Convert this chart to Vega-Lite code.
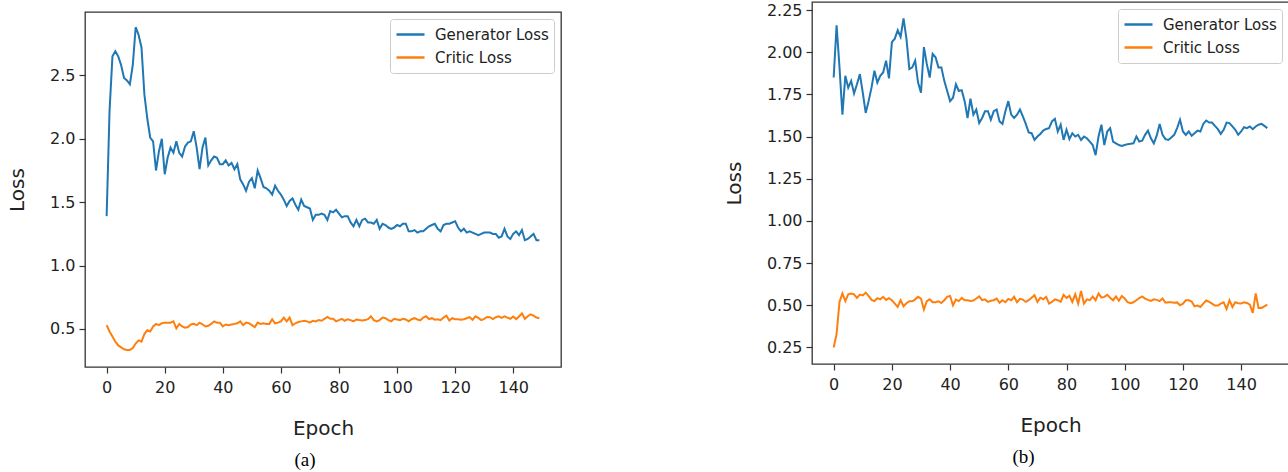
{
  "$schema": "https://vega.github.io/schema/vega-lite/v6.json",
  "padding": {"left": 6, "top": 1, "right": 0, "bottom": 0},
  "spacing": 161,
  "config": {
    "font": "DejaVu Sans",
    "view": {"stroke": "#333333", "strokeWidth": 1.3},
    "axis": {"grid": false, "domain": false, "tickColor": "#333333", "tickSize": 6, "tickWidth": 1.2, "labelColor": "#222222", "labelFontSize": 16, "labelFont": "DejaVu Sans", "titleFont": "DejaVu Sans", "titleFontSize": 20, "titleFontWeight": "normal", "titleColor": "#222222", "labelPadding": 4},
    "axisX": {"labelPadding": 6},
    "legend": {"orient": "top-right", "offset": 7, "fillColor": "rgba(255,255,255,0.8)", "strokeColor": "#cccccc", "cornerRadius": 3, "padding": 5, "symbolType": "stroke", "symbolSize": 784, "symbolStrokeWidth": 2.5, "labelFontSize": 15, "labelFont": "DejaVu Sans", "labelColor": "#222222", "rowPadding": 2, "clipHeight": 21, "labelOffset": 9},
    "title": {"font": "Liberation Serif", "fontSize": 19, "fontWeight": "normal", "color": "#000000", "orient": "bottom", "offset": 13}
  },
  "datasets": {
    "a": [
{"epoch":0,"Generator Loss":1.39,"Critic Loss":0.53},{"epoch":1,"Generator Loss":2.22,"Critic Loss":0.48},{"epoch":2,"Generator Loss":2.65,"Critic Loss":0.44},{"epoch":3,"Generator Loss":2.69,"Critic Loss":0.40},{"epoch":4,"Generator Loss":2.65,"Critic Loss":0.37},{"epoch":5,"Generator Loss":2.58,"Critic Loss":0.355},{"epoch":6,"Generator Loss":2.48,"Critic Loss":0.34},{"epoch":7,"Generator Loss":2.46,"Critic Loss":0.335},{"epoch":8,"Generator Loss":2.43,"Critic Loss":0.335},{"epoch":9,"Generator Loss":2.58,"Critic Loss":0.35},
{"epoch":10,"Generator Loss":2.88,"Critic Loss":0.385},{"epoch":11,"Generator Loss":2.82,"Critic Loss":0.41},{"epoch":12,"Generator Loss":2.72,"Critic Loss":0.40},{"epoch":13,"Generator Loss":2.35,"Critic Loss":0.46},{"epoch":14,"Generator Loss":2.16,"Critic Loss":0.49},{"epoch":15,"Generator Loss":2.01,"Critic Loss":0.48},{"epoch":16,"Generator Loss":1.98,"Critic Loss":0.52},{"epoch":17,"Generator Loss":1.75,"Critic Loss":0.54},{"epoch":18,"Generator Loss":1.90,"Critic Loss":0.53},{"epoch":19,"Generator Loss":2.00,"Critic Loss":0.545},
{"epoch":20,"Generator Loss":1.72,"Critic Loss":0.55},{"epoch":21,"Generator Loss":1.85,"Critic Loss":0.55},{"epoch":22,"Generator Loss":1.93,"Critic Loss":0.55},{"epoch":23,"Generator Loss":1.89,"Critic Loss":0.56},{"epoch":24,"Generator Loss":1.98,"Critic Loss":0.505},{"epoch":25,"Generator Loss":1.89,"Critic Loss":0.54},{"epoch":26,"Generator Loss":1.86,"Critic Loss":0.52},{"epoch":27,"Generator Loss":1.94,"Critic Loss":0.51},{"epoch":28,"Generator Loss":1.97,"Critic Loss":0.515},{"epoch":29,"Generator Loss":1.98,"Critic Loss":0.535},
{"epoch":30,"Generator Loss":2.06,"Critic Loss":0.54},{"epoch":31,"Generator Loss":1.93,"Critic Loss":0.53},{"epoch":32,"Generator Loss":1.76,"Critic Loss":0.55},{"epoch":33,"Generator Loss":1.93,"Critic Loss":0.537},{"epoch":34,"Generator Loss":2.01,"Critic Loss":0.52},{"epoch":35,"Generator Loss":1.79,"Critic Loss":0.525},{"epoch":36,"Generator Loss":1.83,"Critic Loss":0.54},{"epoch":37,"Generator Loss":1.86,"Critic Loss":0.56},{"epoch":38,"Generator Loss":1.85,"Critic Loss":0.55},{"epoch":39,"Generator Loss":1.80,"Critic Loss":0.55},
{"epoch":40,"Generator Loss":1.80,"Critic Loss":0.52},{"epoch":41,"Generator Loss":1.83,"Critic Loss":0.535},{"epoch":42,"Generator Loss":1.79,"Critic Loss":0.53},{"epoch":43,"Generator Loss":1.81,"Critic Loss":0.535},{"epoch":44,"Generator Loss":1.76,"Critic Loss":0.54},{"epoch":45,"Generator Loss":1.80,"Critic Loss":0.545},{"epoch":46,"Generator Loss":1.68,"Critic Loss":0.56},{"epoch":47,"Generator Loss":1.64,"Critic Loss":0.53},{"epoch":48,"Generator Loss":1.59,"Critic Loss":0.55},{"epoch":49,"Generator Loss":1.66,"Critic Loss":0.545},
{"epoch":50,"Generator Loss":1.69,"Critic Loss":0.53},{"epoch":51,"Generator Loss":1.61,"Critic Loss":0.515},{"epoch":52,"Generator Loss":1.75,"Critic Loss":0.55},{"epoch":53,"Generator Loss":1.69,"Critic Loss":0.54},{"epoch":54,"Generator Loss":1.62,"Critic Loss":0.545},{"epoch":55,"Generator Loss":1.61,"Critic Loss":0.54},{"epoch":56,"Generator Loss":1.59,"Critic Loss":0.54},{"epoch":57,"Generator Loss":1.56,"Critic Loss":0.577},{"epoch":58,"Generator Loss":1.63,"Critic Loss":0.545},{"epoch":59,"Generator Loss":1.59,"Critic Loss":0.55},
{"epoch":60,"Generator Loss":1.56,"Critic Loss":0.56},{"epoch":61,"Generator Loss":1.52,"Critic Loss":0.59},{"epoch":62,"Generator Loss":1.47,"Critic Loss":0.56},{"epoch":63,"Generator Loss":1.51,"Critic Loss":0.59},{"epoch":64,"Generator Loss":1.53,"Critic Loss":0.53},{"epoch":65,"Generator Loss":1.48,"Critic Loss":0.545},{"epoch":66,"Generator Loss":1.44,"Critic Loss":0.555},{"epoch":67,"Generator Loss":1.52,"Critic Loss":0.56},{"epoch":68,"Generator Loss":1.47,"Critic Loss":0.565},{"epoch":69,"Generator Loss":1.46,"Critic Loss":0.56},
{"epoch":70,"Generator Loss":1.45,"Critic Loss":0.55},{"epoch":71,"Generator Loss":1.36,"Critic Loss":0.565},{"epoch":72,"Generator Loss":1.40,"Critic Loss":0.56},{"epoch":73,"Generator Loss":1.40,"Critic Loss":0.57},{"epoch":74,"Generator Loss":1.41,"Critic Loss":0.565},{"epoch":75,"Generator Loss":1.40,"Critic Loss":0.58},{"epoch":76,"Generator Loss":1.36,"Critic Loss":0.595},{"epoch":77,"Generator Loss":1.43,"Critic Loss":0.58},{"epoch":78,"Generator Loss":1.42,"Critic Loss":0.58},{"epoch":79,"Generator Loss":1.44,"Critic Loss":0.56},
{"epoch":80,"Generator Loss":1.41,"Critic Loss":0.57},{"epoch":81,"Generator Loss":1.38,"Critic Loss":0.58},{"epoch":82,"Generator Loss":1.39,"Critic Loss":0.565},{"epoch":83,"Generator Loss":1.39,"Critic Loss":0.577},{"epoch":84,"Generator Loss":1.34,"Critic Loss":0.57},{"epoch":85,"Generator Loss":1.31,"Critic Loss":0.56},{"epoch":86,"Generator Loss":1.36,"Critic Loss":0.575},{"epoch":87,"Generator Loss":1.31,"Critic Loss":0.57},{"epoch":88,"Generator Loss":1.36,"Critic Loss":0.567},{"epoch":89,"Generator Loss":1.37,"Critic Loss":0.57},
{"epoch":90,"Generator Loss":1.34,"Critic Loss":0.577},{"epoch":91,"Generator Loss":1.34,"Critic Loss":0.60},{"epoch":92,"Generator Loss":1.33,"Critic Loss":0.57},{"epoch":93,"Generator Loss":1.36,"Critic Loss":0.56},{"epoch":94,"Generator Loss":1.29,"Critic Loss":0.57},{"epoch":95,"Generator Loss":1.33,"Critic Loss":0.59},{"epoch":96,"Generator Loss":1.32,"Critic Loss":0.585},{"epoch":97,"Generator Loss":1.30,"Critic Loss":0.57},{"epoch":98,"Generator Loss":1.29,"Critic Loss":0.56},{"epoch":99,"Generator Loss":1.30,"Critic Loss":0.58},
{"epoch":100,"Generator Loss":1.32,"Critic Loss":0.575},{"epoch":101,"Generator Loss":1.31,"Critic Loss":0.57},{"epoch":102,"Generator Loss":1.33,"Critic Loss":0.58},{"epoch":103,"Generator Loss":1.33,"Critic Loss":0.575},{"epoch":104,"Generator Loss":1.27,"Critic Loss":0.56},{"epoch":105,"Generator Loss":1.27,"Critic Loss":0.577},{"epoch":106,"Generator Loss":1.28,"Critic Loss":0.585},{"epoch":107,"Generator Loss":1.26,"Critic Loss":0.575},{"epoch":108,"Generator Loss":1.27,"Critic Loss":0.567},{"epoch":109,"Generator Loss":1.27,"Critic Loss":0.59},
{"epoch":110,"Generator Loss":1.29,"Critic Loss":0.60},{"epoch":111,"Generator Loss":1.31,"Critic Loss":0.578},{"epoch":112,"Generator Loss":1.32,"Critic Loss":0.585},{"epoch":113,"Generator Loss":1.33,"Critic Loss":0.573},{"epoch":114,"Generator Loss":1.29,"Critic Loss":0.577},{"epoch":115,"Generator Loss":1.27,"Critic Loss":0.57},{"epoch":116,"Generator Loss":1.32,"Critic Loss":0.59},{"epoch":117,"Generator Loss":1.33,"Critic Loss":0.605},{"epoch":118,"Generator Loss":1.33,"Critic Loss":0.566},{"epoch":119,"Generator Loss":1.34,"Critic Loss":0.585},
{"epoch":120,"Generator Loss":1.35,"Critic Loss":0.577},{"epoch":121,"Generator Loss":1.30,"Critic Loss":0.577},{"epoch":122,"Generator Loss":1.27,"Critic Loss":0.573},{"epoch":123,"Generator Loss":1.29,"Critic Loss":0.577},{"epoch":124,"Generator Loss":1.26,"Critic Loss":0.585},{"epoch":125,"Generator Loss":1.27,"Critic Loss":0.593},{"epoch":126,"Generator Loss":1.26,"Critic Loss":0.572},{"epoch":127,"Generator Loss":1.25,"Critic Loss":0.60},{"epoch":128,"Generator Loss":1.24,"Critic Loss":0.587},{"epoch":129,"Generator Loss":1.25,"Critic Loss":0.57},
{"epoch":130,"Generator Loss":1.26,"Critic Loss":0.58},{"epoch":131,"Generator Loss":1.26,"Critic Loss":0.595},{"epoch":132,"Generator Loss":1.26,"Critic Loss":0.593},{"epoch":133,"Generator Loss":1.25,"Critic Loss":0.578},{"epoch":134,"Generator Loss":1.25,"Critic Loss":0.593},{"epoch":135,"Generator Loss":1.22,"Critic Loss":0.60},{"epoch":136,"Generator Loss":1.23,"Critic Loss":0.588},{"epoch":137,"Generator Loss":1.29,"Critic Loss":0.60},{"epoch":138,"Generator Loss":1.23,"Critic Loss":0.59},{"epoch":139,"Generator Loss":1.21,"Critic Loss":0.58},
{"epoch":140,"Generator Loss":1.25,"Critic Loss":0.598},{"epoch":141,"Generator Loss":1.27,"Critic Loss":0.578},{"epoch":142,"Generator Loss":1.24,"Critic Loss":0.598},{"epoch":143,"Generator Loss":1.28,"Critic Loss":0.623},{"epoch":144,"Generator Loss":1.20,"Critic Loss":0.58},{"epoch":145,"Generator Loss":1.21,"Critic Loss":0.60},{"epoch":146,"Generator Loss":1.23,"Critic Loss":0.615},{"epoch":147,"Generator Loss":1.25,"Critic Loss":0.605},{"epoch":148,"Generator Loss":1.20,"Critic Loss":0.59},{"epoch":149,"Generator Loss":1.20,"Critic Loss":0.585}
    ],
    "b": [
{"epoch":0,"Generator Loss":1.85,"Critic Loss":0.25},{"epoch":1,"Generator Loss":2.16,"Critic Loss":0.33},{"epoch":2,"Generator Loss":1.91,"Critic Loss":0.52},{"epoch":3,"Generator Loss":1.63,"Critic Loss":0.57},{"epoch":4,"Generator Loss":1.86,"Critic Loss":0.525},{"epoch":5,"Generator Loss":1.79,"Critic Loss":0.565},{"epoch":6,"Generator Loss":1.83,"Critic Loss":0.57},{"epoch":7,"Generator Loss":1.755,"Critic Loss":0.565},{"epoch":8,"Generator Loss":1.81,"Critic Loss":0.544},{"epoch":9,"Generator Loss":1.87,"Critic Loss":0.563},
{"epoch":10,"Generator Loss":1.76,"Critic Loss":0.558},{"epoch":11,"Generator Loss":1.64,"Critic Loss":0.575},{"epoch":12,"Generator Loss":1.71,"Critic Loss":0.556},{"epoch":13,"Generator Loss":1.79,"Critic Loss":0.532},{"epoch":14,"Generator Loss":1.89,"Critic Loss":0.525},{"epoch":15,"Generator Loss":1.82,"Critic Loss":0.542},{"epoch":16,"Generator Loss":1.86,"Critic Loss":0.535},{"epoch":17,"Generator Loss":1.88,"Critic Loss":0.55},{"epoch":18,"Generator Loss":1.95,"Critic Loss":0.532},{"epoch":19,"Generator Loss":1.845,"Critic Loss":0.542},
{"epoch":20,"Generator Loss":2.06,"Critic Loss":0.53},{"epoch":21,"Generator Loss":2.08,"Critic Loss":0.51},{"epoch":22,"Generator Loss":2.13,"Critic Loss":0.49},{"epoch":23,"Generator Loss":2.09,"Critic Loss":0.53},{"epoch":24,"Generator Loss":2.20,"Critic Loss":0.494},{"epoch":25,"Generator Loss":2.08,"Critic Loss":0.512},{"epoch":26,"Generator Loss":1.90,"Critic Loss":0.524},{"epoch":27,"Generator Loss":1.91,"Critic Loss":0.524},{"epoch":28,"Generator Loss":1.95,"Critic Loss":0.535},{"epoch":29,"Generator Loss":1.82,"Critic Loss":0.55},
{"epoch":30,"Generator Loss":1.76,"Critic Loss":0.54},{"epoch":31,"Generator Loss":2.03,"Critic Loss":0.475},{"epoch":32,"Generator Loss":1.93,"Critic Loss":0.524},{"epoch":33,"Generator Loss":1.85,"Critic Loss":0.536},{"epoch":34,"Generator Loss":1.99,"Critic Loss":0.518},{"epoch":35,"Generator Loss":1.97,"Critic Loss":0.518},{"epoch":36,"Generator Loss":1.91,"Critic Loss":0.524},{"epoch":37,"Generator Loss":1.91,"Critic Loss":0.514},{"epoch":38,"Generator Loss":1.83,"Critic Loss":0.53},{"epoch":39,"Generator Loss":1.77,"Critic Loss":0.55},
{"epoch":40,"Generator Loss":1.71,"Critic Loss":0.555},{"epoch":41,"Generator Loss":1.73,"Critic Loss":0.50},{"epoch":42,"Generator Loss":1.81,"Critic Loss":0.534},{"epoch":43,"Generator Loss":1.77,"Critic Loss":0.525},{"epoch":44,"Generator Loss":1.775,"Critic Loss":0.544},{"epoch":45,"Generator Loss":1.71,"Critic Loss":0.53},{"epoch":46,"Generator Loss":1.61,"Critic Loss":0.53},{"epoch":47,"Generator Loss":1.725,"Critic Loss":0.525},{"epoch":48,"Generator Loss":1.63,"Critic Loss":0.528},{"epoch":49,"Generator Loss":1.66,"Critic Loss":0.54},
{"epoch":50,"Generator Loss":1.58,"Critic Loss":0.553},{"epoch":51,"Generator Loss":1.61,"Critic Loss":0.53},{"epoch":52,"Generator Loss":1.65,"Critic Loss":0.535},{"epoch":53,"Generator Loss":1.65,"Critic Loss":0.52},{"epoch":54,"Generator Loss":1.60,"Critic Loss":0.527},{"epoch":55,"Generator Loss":1.65,"Critic Loss":0.53},{"epoch":56,"Generator Loss":1.66,"Critic Loss":0.54},{"epoch":57,"Generator Loss":1.59,"Critic Loss":0.515},{"epoch":58,"Generator Loss":1.575,"Critic Loss":0.53},{"epoch":59,"Generator Loss":1.65,"Critic Loss":0.518},
{"epoch":60,"Generator Loss":1.71,"Critic Loss":0.538},{"epoch":61,"Generator Loss":1.63,"Critic Loss":0.53},{"epoch":62,"Generator Loss":1.61,"Critic Loss":0.55},{"epoch":63,"Generator Loss":1.63,"Critic Loss":0.518},{"epoch":64,"Generator Loss":1.66,"Critic Loss":0.538},{"epoch":65,"Generator Loss":1.62,"Critic Loss":0.534},{"epoch":66,"Generator Loss":1.575,"Critic Loss":0.52},{"epoch":67,"Generator Loss":1.525,"Critic Loss":0.53},{"epoch":68,"Generator Loss":1.52,"Critic Loss":0.545},{"epoch":69,"Generator Loss":1.48,"Critic Loss":0.56},
{"epoch":70,"Generator Loss":1.50,"Critic Loss":0.52},{"epoch":71,"Generator Loss":1.515,"Critic Loss":0.545},{"epoch":72,"Generator Loss":1.535,"Critic Loss":0.536},{"epoch":73,"Generator Loss":1.545,"Critic Loss":0.55},{"epoch":74,"Generator Loss":1.55,"Critic Loss":0.51},{"epoch":75,"Generator Loss":1.59,"Critic Loss":0.52},{"epoch":76,"Generator Loss":1.605,"Critic Loss":0.535},{"epoch":77,"Generator Loss":1.53,"Critic Loss":0.53},{"epoch":78,"Generator Loss":1.57,"Critic Loss":0.52},{"epoch":79,"Generator Loss":1.48,"Critic Loss":0.562},
{"epoch":80,"Generator Loss":1.54,"Critic Loss":0.544},{"epoch":81,"Generator Loss":1.485,"Critic Loss":0.556},{"epoch":82,"Generator Loss":1.52,"Critic Loss":0.52},{"epoch":83,"Generator Loss":1.50,"Critic Loss":0.565},{"epoch":84,"Generator Loss":1.51,"Critic Loss":0.51},{"epoch":85,"Generator Loss":1.48,"Critic Loss":0.585},{"epoch":86,"Generator Loss":1.50,"Critic Loss":0.51},{"epoch":87,"Generator Loss":1.49,"Critic Loss":0.535},{"epoch":88,"Generator Loss":1.47,"Critic Loss":0.53},{"epoch":89,"Generator Loss":1.45,"Critic Loss":0.552},
{"epoch":90,"Generator Loss":1.39,"Critic Loss":0.53},{"epoch":91,"Generator Loss":1.50,"Critic Loss":0.57},{"epoch":92,"Generator Loss":1.57,"Critic Loss":0.545},{"epoch":93,"Generator Loss":1.45,"Critic Loss":0.55},{"epoch":94,"Generator Loss":1.53,"Critic Loss":0.562},{"epoch":95,"Generator Loss":1.55,"Critic Loss":0.545},{"epoch":96,"Generator Loss":1.47,"Critic Loss":0.53},{"epoch":97,"Generator Loss":1.46,"Critic Loss":0.552},{"epoch":98,"Generator Loss":1.45,"Critic Loss":0.527},{"epoch":99,"Generator Loss":1.445,"Critic Loss":0.555},
{"epoch":100,"Generator Loss":1.45,"Critic Loss":0.54},{"epoch":101,"Generator Loss":1.455,"Critic Loss":0.518},{"epoch":102,"Generator Loss":1.457,"Critic Loss":0.512},{"epoch":103,"Generator Loss":1.46,"Critic Loss":0.518},{"epoch":104,"Generator Loss":1.50,"Critic Loss":0.53},{"epoch":105,"Generator Loss":1.47,"Critic Loss":0.543},{"epoch":106,"Generator Loss":1.475,"Critic Loss":0.553},{"epoch":107,"Generator Loss":1.51,"Critic Loss":0.54},{"epoch":108,"Generator Loss":1.535,"Critic Loss":0.532},{"epoch":109,"Generator Loss":1.49,"Critic Loss":0.526},
{"epoch":110,"Generator Loss":1.46,"Critic Loss":0.535},{"epoch":111,"Generator Loss":1.505,"Critic Loss":0.532},{"epoch":112,"Generator Loss":1.575,"Critic Loss":0.525},{"epoch":113,"Generator Loss":1.51,"Critic Loss":0.54},{"epoch":114,"Generator Loss":1.485,"Critic Loss":0.515},{"epoch":115,"Generator Loss":1.48,"Critic Loss":0.518},{"epoch":116,"Generator Loss":1.495,"Critic Loss":0.518},{"epoch":117,"Generator Loss":1.51,"Critic Loss":0.515},{"epoch":118,"Generator Loss":1.55,"Critic Loss":0.517},{"epoch":119,"Generator Loss":1.60,"Critic Loss":0.50},
{"epoch":120,"Generator Loss":1.53,"Critic Loss":0.51},{"epoch":121,"Generator Loss":1.51,"Critic Loss":0.53},{"epoch":122,"Generator Loss":1.53,"Critic Loss":0.53},{"epoch":123,"Generator Loss":1.505,"Critic Loss":0.522},{"epoch":124,"Generator Loss":1.52,"Critic Loss":0.494},{"epoch":125,"Generator Loss":1.535,"Critic Loss":0.498},{"epoch":126,"Generator Loss":1.53,"Critic Loss":0.49},{"epoch":127,"Generator Loss":1.575,"Critic Loss":0.51},{"epoch":128,"Generator Loss":1.595,"Critic Loss":0.528},{"epoch":129,"Generator Loss":1.583,"Critic Loss":0.52},
{"epoch":130,"Generator Loss":1.583,"Critic Loss":0.51},{"epoch":131,"Generator Loss":1.563,"Critic Loss":0.498},{"epoch":132,"Generator Loss":1.544,"Critic Loss":0.498},{"epoch":133,"Generator Loss":1.516,"Critic Loss":0.51},{"epoch":134,"Generator Loss":1.54,"Critic Loss":0.518},{"epoch":135,"Generator Loss":1.583,"Critic Loss":0.478},{"epoch":136,"Generator Loss":1.58,"Critic Loss":0.53},{"epoch":137,"Generator Loss":1.56,"Critic Loss":0.49},{"epoch":138,"Generator Loss":1.54,"Critic Loss":0.518},{"epoch":139,"Generator Loss":1.51,"Critic Loss":0.512},
{"epoch":140,"Generator Loss":1.53,"Critic Loss":0.51},{"epoch":141,"Generator Loss":1.555,"Critic Loss":0.518},{"epoch":142,"Generator Loss":1.55,"Critic Loss":0.514},{"epoch":143,"Generator Loss":1.56,"Critic Loss":0.504},{"epoch":144,"Generator Loss":1.544,"Critic Loss":0.455},{"epoch":145,"Generator Loss":1.56,"Critic Loss":0.57},{"epoch":146,"Generator Loss":1.57,"Critic Loss":0.484},{"epoch":147,"Generator Loss":1.575,"Critic Loss":0.484},{"epoch":148,"Generator Loss":1.563,"Critic Loss":0.494},{"epoch":149,"Generator Loss":1.55,"Critic Loss":0.504}
    ]
  },
  "hconcat": [
    {
      "spacing": 8,
      "resolve": {"scale": {"color": "independent"}, "legend": {"color": "independent"}},
      "vconcat": [
        {
          "width": 1, "height": 1,
          "view": {"stroke": null},
          "data": {"values": [{"k": 0}]},
          "mark": {"type": "point", "opacity": 0, "size": 1},
          "encoding": {}
        },
        {
          "width": 476, "height": 355,
          "data": {"name": "a"},
          "transform": [{"fold": ["Generator Loss", "Critic Loss"], "as": ["series", "loss"]}],
          "mark": {"type": "line", "strokeWidth": 2},
          "title": {"text": "(a)", "dx": -18},
          "encoding": {
            "x": {"field": "epoch", "type": "quantitative", "scale": {"domain": [-7.45, 156.45], "nice": false, "zero": false}, "axis": {"values": [0, 20, 40, 60, 80, 100, 120, 140], "title": "Epoch", "titlePadding": 23}},
            "y": {"field": "loss", "type": "quantitative", "scale": {"domain": [0.2, 3.0], "nice": false, "zero": false}, "axis": {"values": [0.5, 1.0, 1.5, 2.0, 2.5], "format": ".1f", "title": "Loss", "titlePadding": 22}},
            "color": {"field": "series", "type": "nominal", "sort": ["Generator Loss", "Critic Loss"], "scale": {"domain": ["Generator Loss", "Critic Loss"], "range": ["#1f77b4", "#ff7f0e"]}, "legend": {"title": null, "orient": "top-right", "offset": 7}}
          }
        }
      ]
    },
    {
      "width": 477, "height": 362,
      "data": {"name": "b"},
      "transform": [{"fold": ["Generator Loss", "Critic Loss"], "as": ["series", "loss"]}],
      "mark": {"type": "line", "strokeWidth": 2},
      "title": {"text": "(b)", "dx": -27},
      "encoding": {
        "x": {"field": "epoch", "type": "quantitative", "scale": {"domain": [-7.45, 156.45], "nice": false, "zero": false}, "axis": {"values": [0, 20, 40, 60, 80, 100, 120, 140], "title": "Epoch", "titlePadding": 23}},
        "y": {"field": "loss", "type": "quantitative", "scale": {"domain": [0.152, 2.2975], "nice": false, "zero": false}, "axis": {"values": [0.25, 0.5, 0.75, 1.0, 1.25, 1.5, 1.75, 2.0, 2.25], "format": ".2f", "title": "Loss", "titlePadding": 22}},
        "color": {"field": "series", "type": "nominal", "sort": ["Generator Loss", "Critic Loss"], "scale": {"domain": ["Generator Loss", "Critic Loss"], "range": ["#1f77b4", "#ff7f0e"]}, "legend": {"title": null, "orient": "top-right", "offset": 7}}
      }
    }
  ],
  "resolve": {"scale": {"color": "independent"}, "legend": {"color": "independent"}}
}
